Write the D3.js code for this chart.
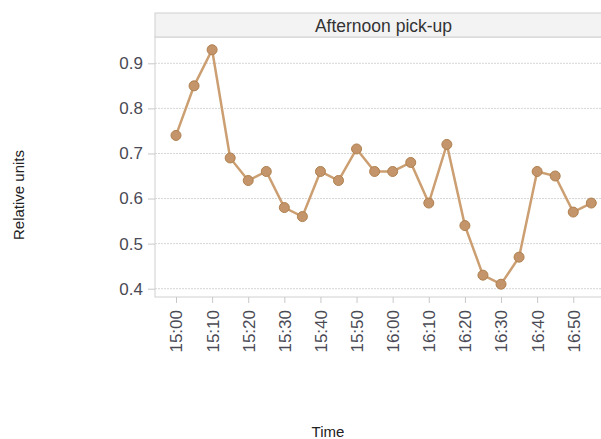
<!DOCTYPE html>
<html>
<head>
<meta charset="utf-8">
<script src="https://cdn.jsdelivr.net/npm/d3@7"></script>
<style>
  body { margin: 0; background: #fff; }
  svg { display: block; font-family: "Liberation Sans", Arial, sans-serif; }
</style>
</head>
<body>
<svg id="chart" width="601" height="439"></svg>
<script>
// pick-up readings, every 5 minutes
var times = ["15:00","15:05","15:10","15:15","15:20","15:25","15:30","15:35","15:40","15:45","15:50","15:55",
             "16:00","16:05","16:10","16:15","16:20","16:25","16:30","16:35","16:40","16:45","16:50","16:55"];
var values = [0.74, 0.85, 0.93, 0.69, 0.64, 0.66, 0.58, 0.56, 0.66, 0.64, 0.71, 0.66,
              0.66, 0.68, 0.59, 0.72, 0.54, 0.43, 0.41, 0.47, 0.66, 0.65, 0.57, 0.59];
var yTicks = [0.4, 0.5, 0.6, 0.7, 0.8, 0.9];
var panelTitle = "Afternoon pick-up";

var parseTime = d3.timeParse("%H:%M");
var data = times.map(function(t, i) { return {t: parseTime(t), v: values[i]}; });

var svg = d3.select("#chart");
var panel = {left: 155, right: 612, top: 13, head: 37, bottom: 297};

var x = d3.scaleTime()
    .domain(d3.extent(data, function(d) { return d.t; }))
    .range([176, 591.3]);

var y = d3.scaleLinear()
    .domain([0.4, 0.9])
    .range([288.7, 63.3]);

// panel + header strip
svg.append("rect")
    .attr("x", panel.left).attr("y", panel.head)
    .attr("width", panel.right - panel.left).attr("height", panel.bottom - panel.head)
    .attr("fill", "#fff").attr("stroke", "#d0d0d0");
svg.append("rect")
    .attr("x", panel.left).attr("y", panel.top)
    .attr("width", panel.right - panel.left).attr("height", panel.head - panel.top)
    .attr("fill", "#f3f3f3").attr("stroke", "#cfcfcf");
svg.append("text")
    .attr("x", (panel.left + panel.right) / 2).attr("y", panel.top + 18.5)
    .attr("text-anchor", "middle")
    .attr("font-size", 17.5).attr("fill", "#333")
    .text(panelTitle);

// dotted gridlines
svg.append("g").selectAll("line").data(yTicks).enter().append("line")
    .attr("x1", panel.left).attr("x2", panel.right)
    .attr("y1", function(d) { return y(d); }).attr("y2", function(d) { return y(d); })
    .attr("stroke", "#d6d6d6").attr("stroke-dasharray", "2,1");

// y axis
var yAxis = svg.append("g")
    .attr("transform", "translate(" + panel.left + ",0)")
    .call(d3.axisLeft(y).tickValues(yTicks).tickSize(7).tickPadding(5).tickFormat(d3.format(".1f")));
yAxis.select(".domain").remove();
yAxis.selectAll("line").attr("stroke", "#c8c8c8");
yAxis.selectAll("text").attr("font-size", 17).attr("fill", "#4a4a55")
    .attr("font-family", "Liberation Sans, Arial, sans-serif");

// x axis, rotated labels
var xAxis = svg.append("g")
    .attr("transform", "translate(0," + panel.bottom + ")")
    .call(d3.axisBottom(x).ticks(d3.timeMinute.every(10)).tickSize(6).tickFormat(d3.timeFormat("%H:%M")));
xAxis.select(".domain").remove();
xAxis.selectAll("line").attr("stroke", "#c8c8c8");
xAxis.selectAll("text")
    .attr("font-size", 17).attr("fill", "#4a4a55")
    .attr("font-family", "Liberation Sans, Arial, sans-serif")
    .attr("text-anchor", "end")
    .attr("transform", "rotate(-90)")
    .attr("x", -13).attr("y", 0).attr("dy", "0.35em");

// line + points
var line = d3.line()
    .x(function(d) { return x(d.t); })
    .y(function(d) { return y(d.v); });

svg.append("path")
    .datum(data)
    .attr("d", line)
    .attr("fill", "none")
    .attr("stroke", "#cc9f72")
    .attr("stroke-width", 2.5);

svg.append("g").selectAll("circle").data(data).enter().append("circle")
    .attr("cx", function(d) { return x(d.t); })
    .attr("cy", function(d) { return y(d.v); })
    .attr("r", 5)
    .attr("fill", "#c4956a")
    .attr("stroke", "#b0804f")
    .attr("stroke-width", 1);

// axis titles
svg.append("text")
    .attr("x", 328).attr("y", 437)
    .attr("text-anchor", "middle")
    .attr("font-size", 15).attr("fill", "#222")
    .text("Time");
svg.append("text")
    .attr("transform", "translate(24,195) rotate(-90)")
    .attr("text-anchor", "middle")
    .attr("font-size", 15).attr("fill", "#222")
    .text("Relative units");
</script>
</body>
</html>
